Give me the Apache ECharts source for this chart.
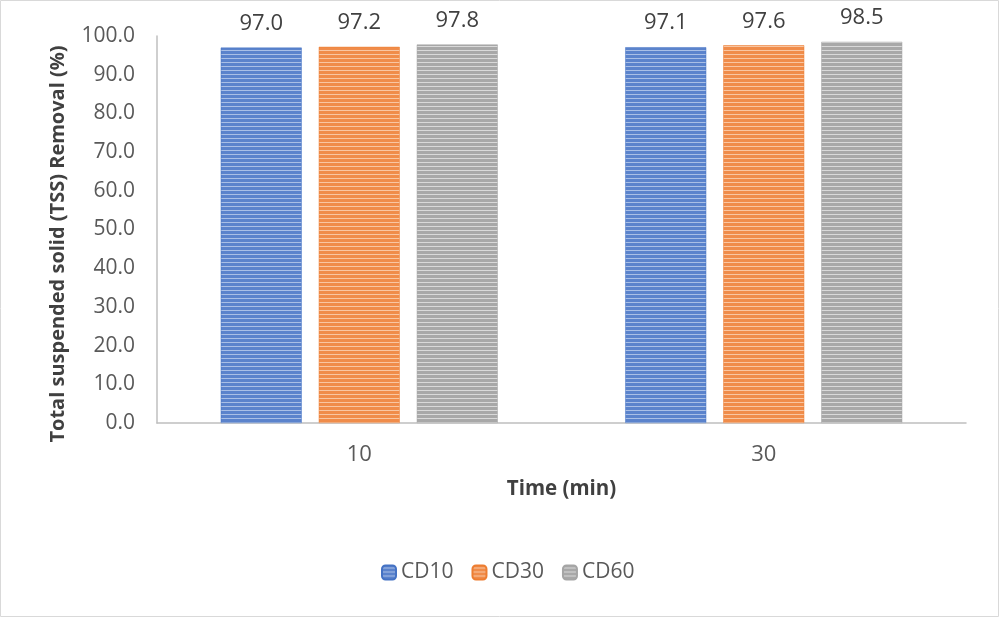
<!DOCTYPE html>
<html><head><meta charset="utf-8">
<script src="https://cdn.jsdelivr.net/npm/echarts@6/dist/echarts.min.js"></script>
<style>html,body{margin:0;padding:0;background:#fff}#c{width:1000px;height:618px}</style>
</head><body><div id="c"></div>
<script>
const categories = ['10', '30'];
const seriesNames = ['CD10', 'CD30', 'CD60'];
const cd10 = [97.0, 97.1];
const cd30 = [97.2, 97.6];
const cd60 = [97.8, 98.5];
const yTicks = [0, 10, 20, 30, 40, 50, 60, 70, 80, 90, 100];
const yTitle = 'Total suspended solid (TSS) Removal (%)';
const xTitle = 'Time (min)';

function stripe(base, light) {
  const c = document.createElement('canvas');
  c.width = 4; c.height = 4;
  const g = c.getContext('2d');
  g.fillStyle = base; g.fillRect(0, 0, 4, 4);
  g.fillStyle = light; g.fillRect(0, 2, 4, 1);
  return { image: c, repeat: 'repeat' };
}
const fills = [
  stripe('#5b83cc', '#a9bfe6'),
  stripe('#f08c4a', '#f9c6a2'),
  stripe('#a8a8a8', '#d9d9d9')
];
const borders = ['#4472c4', '#ed7d31', '#a5a5a5'];
const data = [cd10, cd30, cd60];
const FONT = 'Open Sans';

const chart = echarts.init(document.getElementById('c'));
chart.setOption({
  animation: false,
  textStyle: { fontFamily: FONT },
  graphic: [
    { type: 'rect', shape: { x: 0.5, y: 0.5, width: 998, height: 616 }, style: { fill: 'none', stroke: '#d9d9d9', lineWidth: 1 } },
    { type: 'text', x: 58, y: 244, rotation: Math.PI / 2,
      style: { text: yTitle, fontSize: 20, fontWeight: 'bold', fill: '#404040', fontFamily: FONT, align: 'center', verticalAlign: 'middle' } }
  ],
  grid: { left: 157, right: 34, top: 36, bottom: 195 },
  legend: {
    bottom: 30, left: 376, itemWidth: 14, itemHeight: 14, itemGap: 18,
    textStyle: { fontSize: 21, color: '#595959', fontFamily: FONT },
    data: seriesNames
  },
  xAxis: {
    type: 'category', data: categories,
    name: xTitle, nameLocation: 'middle', nameGap: 56,
    nameTextStyle: { fontSize: 20.5, fontWeight: 'bold', color: '#404040', fontFamily: FONT },
    axisLine: { lineStyle: { color: '#bfbfbf', width: 1.5 } },
    axisTick: { show: false },
    axisLabel: { fontSize: 22, color: '#595959', margin: 21, fontFamily: FONT }
  },
  yAxis: {
    type: 'value', min: yTicks[0], max: yTicks[yTicks.length - 1], interval: 10,
    axisLine: { show: true, lineStyle: { color: '#bfbfbf', width: 1.5 } },
    axisTick: { show: false },
    splitLine: { show: false },
    axisLabel: { fontSize: 21, color: '#595959', margin: 22, fontFamily: FONT, formatter: v => v.toFixed(1) }
  },
  series: seriesNames.map((n, i) => ({
    name: n, type: 'bar', data: data[i],
    barWidth: 81, barGap: '21%',
    itemStyle: { color: fills[i], borderColor: borders[i], borderWidth: 0.5 },
    label: { show: true, position: 'top', distance: 13, fontSize: 22, color: '#404040', fontFamily: FONT, formatter: p => p.value.toFixed(1) }
  }))
});
</script></body></html>
